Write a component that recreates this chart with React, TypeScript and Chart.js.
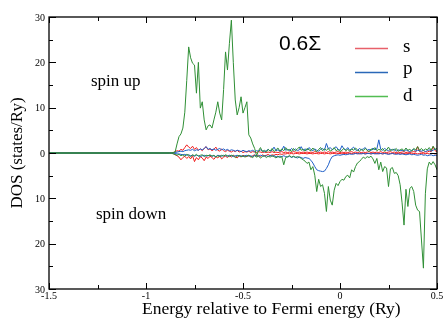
import React, { useEffect, useRef } from "react";
import { Chart, registerables } from "chart.js";

Chart.register(...registerables);

// Energy grid (Ry, relative to Fermi energy)
const energy = [
  -1.5,
  -0.88, -0.87, -0.86, -0.85, -0.84, -0.83, -0.82, -0.81, -0.8, -0.79,
  -0.78, -0.77, -0.76, -0.75, -0.74, -0.73, -0.72, -0.71, -0.7, -0.69,
  -0.68, -0.67, -0.66, -0.65, -0.64, -0.63, -0.62, -0.61, -0.6, -0.59,
  -0.58, -0.57, -0.56, -0.55, -0.54, -0.53, -0.52, -0.51, -0.5, -0.49,
  -0.48, -0.47, -0.46, -0.45, -0.44, -0.43, -0.42, -0.41, -0.4, -0.39,
  -0.38, -0.37, -0.36, -0.35, -0.34, -0.33, -0.32, -0.31, -0.3, -0.29,
  -0.28, -0.27, -0.26, -0.25, -0.24, -0.23, -0.22, -0.21, -0.2, -0.19,
  -0.18, -0.17, -0.16, -0.15, -0.14, -0.13, -0.12, -0.11, -0.1, -0.09,
  -0.08, -0.07, -0.06, -0.05, -0.04, -0.03, -0.02, -0.01, 0.0, 0.01,
  0.02, 0.03, 0.04, 0.05, 0.06, 0.07, 0.08, 0.09, 0.1, 0.11,
  0.12, 0.13, 0.14, 0.15, 0.16, 0.17, 0.18, 0.19, 0.2, 0.21,
  0.22, 0.23, 0.24, 0.25, 0.26, 0.27, 0.28, 0.29, 0.3, 0.31,
  0.32, 0.33, 0.34, 0.35, 0.36, 0.37, 0.38, 0.39, 0.4, 0.41,
  0.42, 0.43, 0.44, 0.45, 0.46, 0.47, 0.48, 0.49, 0.5,
];

// d states, spin up (positive) / spin down (negative)
const dUp = [
  0,
  0, 0, 0.1, 0.2, 2.0, 3.6, 4.2, 5.5, 9.0, 16.0,
  23.4, 21.0, 19.8, 19.4, 13.2, 20.0, 9.9, 11.3, 7.3, 5.1,
  6.0, 6.2, 5.5, 7.3, 9.0, 11.3, 8.8, 7.3, 14.0, 22.3,
  18.3, 24.2, 29.3, 20.0, 11.7, 8.4, 10.0, 12.4, 8.8, 10.0,
  11.3, 4.0, 3.3, 2.0, 1.0, -0.6, 0.5, 1.2, 0.3, 0.6,
  0.2, 0.8, 0.4, 1.0, 0.3, 0.7, 1.1, 0.4, 0.9, 0.5,
  1.2, 0.6, 0.8, 0.3, 1.0, 0.5, 0.9, 1.3, 0.6, 0.8,
  0.4, 1.0, 0.7, 0.5, 1.1, 0.6, 0.3, 0.8, 1.2, 0.5,
  0.9, 0.6, 1.0, 0.4, 0.7, 1.2, 0.5, 0.8, 0.3, 0.6,
  1.0, 0.5, 0.8, 0.4, 0.9, 0.6, 1.1, 0.7, 0.4, 0.8,
  0.5, 1.0, 0.6, 0.3, 0.9, 0.7, 1.2, 0.5, 0.8, 0.6,
  1.0, 0.4, 0.7, 1.3, 0.5, 0.8, 0.6, 1.0, 0.4, 0.7,
  0.9, 0.5, 1.1, 0.6, 0.8, 0.4, 1.0, 0.7, 1.4, 0.6,
  1.0, 0.5, 0.9, 0.7, 1.2, 0.6, 1.5, 0.8, 1.0,
];
const dDown = [
  0,
  0, 0, -0.2, -0.3, -0.5, -0.3, -0.6, -0.4, -0.7, -0.3,
  -0.5, -0.8, -0.4, -0.6, -0.3, -0.7, -0.5, -0.4, -0.8, -0.5,
  -0.6, -0.4, -0.7, -0.5, -0.9, -0.6, -0.8, -0.5, -0.7, -0.4,
  -0.6, -0.8, -0.5, -0.6, -1.0, -0.7, -0.5, -0.8, -0.6, -0.9,
  -0.7, -0.5, -0.8, -1.0, -0.6, -0.9, -0.7, -1.1, -0.8, -0.6,
  -1.0, -0.7, -0.9, -0.6, -0.8, -1.1, -0.7, -1.0, -0.8, -2.6,
  -1.0, -0.8, -0.6, -0.9, -0.7, -1.0, -0.8, -0.9, -1.2, -1.5,
  -1.8, -2.3, -2.0, -3.7, -3.0, -4.9, -8.5, -5.8, -7.4, -7.0,
  -8.9, -12.9, -7.4, -10.4, -11.5, -8.2, -6.7, -7.2, -6.3, -5.8,
  -6.0, -5.2, -4.9, -5.5, -3.7, -4.2, -3.0, -2.2, -1.9, -1.4,
  -0.9, -1.2, -0.8, -1.0, -0.7, -1.3, -2.3, -1.2, -3.7, -2.0,
  -4.1, -3.0, -3.3, -7.4, -3.5, -3.2, -4.5, -4.3, -5.0, -7.0,
  -11.0, -15.9, -8.0, -11.8, -7.8, -7.4, -8.5, -11.5, -12.6, -12.9,
  -19.2, -25.4, -9.0, -3.5, -2.0, -2.6, -1.9, -2.6, -3.7,
];

// p states
const pUp = [
  0,
  0, 0, 0, 0.1, 0.2, 0.3, 0.4, 0.3, 0.5, 0.6,
  0.7, 0.6, 0.8, 0.5, 0.7, 0.6, 0.9, 0.7, 1.0, 1.4,
  0.8, 1.0, 0.7, 0.9, 0.6, 0.8, 1.0, 0.7, 0.9, 0.6,
  0.8, 0.5, 0.7, 0.6, 0.4, 0.6, 0.5, 0.3, 0.6, 0.4,
  0.3, 0.5, 0.4, 0.6, 0.3, 0.5, 0.4, 0.7, 0.5, 0.3,
  0.5, 0.8, 0.4, 0.6, 1.3, 0.5, 0.7, 0.4, 0.6, 1.5,
  0.6, 0.8, 0.5, 1.0, 0.6, 0.9, 0.5, 0.7, 1.4, 0.6,
  0.9, 0.6, 1.2, 0.8, 0.5, 0.9, 0.6, 0.4, 0.8, 1.0,
  0.6, 2.1, 0.9, 1.2, 0.7, 1.0, 1.4, 0.8, 0.6, 1.6,
  0.9, 0.7, 1.2, 0.6, 0.9, 1.3, 0.7, 0.5, 1.0, 0.7,
  0.9, 1.2, 0.6, 0.8, 0.5, 1.1, 0.7, 0.9, 2.9, 0.8,
  0.6, 1.0, 0.7, 0.5, 0.8, 0.6, 0.9, 0.4, 0.7, 0.5,
  0.6, 0.4, 0.7, 0.5, 0.3, 0.6, 0.8, 0.4, 0.6, 0.5,
  0.4, 0.6, 0.3, 0.5, 0.7, 0.4, 0.6, 0.9, 0.5,
];
const pDown = [
  0,
  0, 0, 0, -0.1, -0.2, -0.2, -0.3, -0.4, -0.3, -0.5,
  -0.4, -0.6, -0.5, -0.7, -0.5, -0.6, -0.8, -0.6, -0.5, -0.7,
  -0.6, -0.5, -0.7, -0.6, -0.8, -0.5, -0.6, -0.7, -0.5, -0.6,
  -0.7, -0.5, -0.6, -0.8, -0.6, -0.5, -0.7, -0.6, -0.8, -0.6,
  -0.5, -0.7, -0.6, -0.8, -0.5, -0.6, -0.7, -0.5, -0.6, -0.7,
  -0.6, -0.8, -0.5, -0.7, -0.6, -0.8, -0.9, -0.7, -0.8, -0.6,
  -0.8, -0.9, -0.7, -1.0, -0.8, -0.9, -1.1, -0.9, -1.0, -1.2,
  -1.0, -1.1, -1.2, -1.6, -2.2, -3.0, -3.7, -3.9, -4.0, -4.1,
  -4.0, -3.4, -2.6, -1.5, -0.8, -0.6, -0.5, -0.4, -0.5, -0.4,
  -0.3, -0.4, -0.3, -0.2, -0.3, -0.2, -0.1, -0.2, -0.1, -0.2,
  -0.1, -0.2, -0.1, -0.1, -0.2, -0.1, -0.2, -0.1, -0.2, -0.1,
  -0.2, -0.1, -0.2, -0.3, -0.2, -0.1, -0.2, -0.3, -0.2, -0.3,
  -0.2, -0.3, -0.4, -0.3, -0.2, -0.4, -0.3, -0.4, -0.5, -0.4,
  -0.3, -0.5, -0.4, -0.6, -0.5, -0.4, -0.6, -0.5, -0.5,
];

// s states
const sUp = [
  0,
  0, 0, 0.1, 0.3, 0.5, 0.4, 0.8, 0.6, 1.2, 1.8,
  1.3, 1.0, 1.5, 0.8, 1.2, 0.6, 0.9, 0.5, 1.0, 1.4,
  0.7, 0.9, 0.5, 0.8, 1.3, 0.6, 0.4, 0.9, 0.5, 0.3,
  0.6, 0.4, 0.2, 0.5, 0.3, 0.6, 0.2, 0.4, 0.1, 0.3,
  0.2, 0.4, 0.1, 0.3, 0.2, 0.1, 0.3, 0.2, 0.1, 0.2,
  0.1, 0.2, 0.1, 0.3, 0.1, 0.2, 0.1, 0.2, 0.3, 0.1,
  0.2, 0.1, 0.2, 0.1, 0.3, 0.2, 0.1, 0.2, 0.1, 0.2,
  0.1, 0.2, 0.1, 0.2, 0.1, 0.3, 0.2, 0.1, 0.2, 0.1,
  0.2, 0.1, 0.3, 0.1, 0.2, 0.1, 0.2, 0.3, 0.1, 0.2,
  0.1, 0.2, 0.1, 0.2, 0.3, 0.1, 0.2, 0.1, 0.2, 0.1,
  0.2, 0.1, 0.2, 0.3, 0.1, 0.2, 0.1, 0.2, 0.1, 0.3,
  0.1, 0.2, 0.1, 0.2, 0.3, 0.1, 0.2, 0.1, 0.2, 0.1,
  0.2, 0.3, 0.1, 0.2, 0.1, 0.2, 0.3, 0.2, 1.4, 0.3,
  0.2, 0.1, 0.3, 0.2, 0.4, 0.3, 1.4, 0.5, 0.3,
];
const sDown = [
  0,
  0, 0, -0.1, -0.4, -0.6, -0.9, -1.5, -1.0, -0.7, -1.2,
  -0.8, -1.3, -0.6, -1.9, -1.0, -1.5, -0.8, -1.1, -1.7, -0.9,
  -1.2, -0.7, -1.0, -1.4, -0.8, -1.1, -0.6, -1.3, -0.9, -0.7,
  -1.0, -0.6, -0.9, -0.5, -0.8, -1.1, -0.6, -0.9, -0.5, -0.7,
  -0.8, -0.5, -0.9, -0.6, -0.4, -0.7, -0.5, -0.8, -0.4, -0.6,
  -0.5, -0.3, -0.6, -0.4, -0.5, -0.3, -0.4, -0.2, -0.3, -0.2,
  -0.2, -0.1, -0.2, -0.1, -0.2, -0.1, -0.1, -0.2, -0.1, -0.1,
  -0.1, -0.2, -0.1, -0.1, -0.2, -0.1, -0.1, -0.2, -0.1, -0.1,
  -0.2, -0.1, -0.1, -0.2, -0.1, -0.1, -0.2, -0.1, -0.1, -0.2,
  -0.1, -0.1, -0.2, -0.1, -0.1, -0.2, -0.1, -0.1, -0.2, -0.1,
  -0.1, -0.2, -0.1, -0.1, -0.2, -0.1, -0.1, -0.2, -0.1, -0.1,
  -0.2, -0.1, -0.1, -0.2, -0.1, -0.1, -0.2, -0.1, -0.1, -0.2,
  -0.1, -0.1, -0.2, -0.1, -0.1, -0.2, -0.1, -0.1, -0.2, -0.1,
  -0.1, -0.2, -0.1, -0.1, -0.2, -0.1, -0.1, -0.2, -0.1,
];

const xTicks = [-1.5, -1, -0.5, 0, 0.5];
const xTickLabels = ["-1.5", "-1", "-0.5", "0", "0.5"];
const yTicks = [-30, -20, -10, 0, 10, 20, 30];
const yTickLabels = ["30", "20", "10", "0", "10", "20", "30"];

const legendNames = ["s", "p", "d"];
const RED = "#f01e1e";
const BLUE = "#1f5fc8";
const GREEN = "#2f8f35";
const LEGEND_COLORS = ["#e8606a", "#2a68b8", "#52bd52"];

const SERIF = '"Liberation Serif", "Times New Roman", serif';
const SANS = '"Liberation Sans", Arial, sans-serif';

function pts(ys: number[]) {
  return ys.map((y, i) => ({ x: energy[i], y }));
}

const decor = {
  id: "decor",
  afterDraw(chart: any) {
    const { ctx, chartArea: a, scales } = chart;
    const xs = scales.x;
    const ys = scales.y;
    ctx.save();
    ctx.setLineDash([]);
    ctx.strokeStyle = "#000";
    ctx.fillStyle = "#000";
    ctx.lineWidth = 1.3;
    ctx.strokeRect(a.left, a.top, a.right - a.left, a.bottom - a.top);

    // x ticks (inward, top and bottom)
    ctx.lineWidth = 1;
    for (let v = -1.5; v <= 0.5001; v += 0.25) {
      const px = Math.round(xs.getPixelForValue(v)) + 0.5;
      const major = Math.abs(v * 2 - Math.round(v * 2)) < 1e-6;
      const len = major ? 6 : 4;
      ctx.beginPath();
      ctx.moveTo(px, a.bottom);
      ctx.lineTo(px, a.bottom - len);
      ctx.moveTo(px, a.top);
      ctx.lineTo(px, a.top + len);
      ctx.stroke();
    }
    // y ticks (inward, left and right)
    for (let v = -30; v <= 30; v += 5) {
      const py = Math.round(ys.getPixelForValue(v)) + 0.5;
      const major = v % 10 === 0;
      const len = major ? 7 : 4;
      ctx.beginPath();
      ctx.moveTo(a.left, py);
      ctx.lineTo(a.left + len, py);
      ctx.moveTo(a.right, py);
      ctx.lineTo(a.right - len, py);
      ctx.stroke();
    }

    // tick labels
    ctx.font = `10px ${SERIF}`;
    ctx.textAlign = "center";
    ctx.textBaseline = "top";
    xTicks.forEach((v, i) => {
      ctx.fillText(xTickLabels[i], xs.getPixelForValue(v), a.bottom + 2);
    });
    ctx.textAlign = "right";
    ctx.textBaseline = "middle";
    yTicks.forEach((v, i) => {
      ctx.fillText(yTickLabels[i], a.left - 4, ys.getPixelForValue(v) + 1);
    });

    // axis titles
    ctx.font = `17.5px ${SERIF}`;
    ctx.textAlign = "left";
    ctx.textBaseline = "alphabetic";
    ctx.fillText("Energy relative to Fermi energy (Ry)", 142, 314);
    ctx.save();
    ctx.translate(22, (a.top + a.bottom) / 2);
    ctx.rotate(-Math.PI / 2);
    ctx.textAlign = "center";
    ctx.font = `17px ${SERIF}`;
    ctx.fillText("DOS (states/Ry)", 0, 0);
    ctx.restore();

    // annotations
    ctx.font = `17px ${SERIF}`;
    ctx.textAlign = "left";
    ctx.fillText("spin up", 91, 86);
    ctx.fillText("spin down", 96, 219);
    ctx.font = `21px ${SANS}`;
    ctx.fillText("0.6\u03A3", 279, 50);

    // legend
    const lineY = [48, 72, 96];
    const textY = [52, 74, 101];
    ctx.font = `19px ${SERIF}`;
    for (let i = 0; i < legendNames.length; i++) {
      ctx.beginPath();
      ctx.strokeStyle = LEGEND_COLORS[i];
      ctx.lineWidth = 1.3;
      ctx.moveTo(355, lineY[i] + 0.5);
      ctx.lineTo(388, lineY[i] + 0.5);
      ctx.stroke();
      ctx.fillStyle = "#000";
      ctx.fillText(legendNames[i], 403, textY[i]);
    }
    ctx.restore();
  },
};

export default function App() {
  const ref = useRef<HTMLCanvasElement | null>(null);
  useEffect(() => {
    if (!ref.current) return;
    const mk = (data: number[], color: string) => ({
      data: pts(data),
      borderColor: color,
      backgroundColor: color,
      borderWidth: 1,
      pointRadius: 0,
      tension: 0,
      fill: false,
    });
    const chart = new Chart(ref.current, {
      type: "line",
      data: {
        datasets: [
          { label: "d up", ...mk(dUp, GREEN) },
          { label: "d down", ...mk(dDown, GREEN) },
          { label: "p up", ...mk(pUp, BLUE) },
          { label: "p down", ...mk(pDown, BLUE) },
          { label: "s up", ...mk(sUp, RED) },
          { label: "s down", ...mk(sDown, RED) },
        ],
      },
      options: {
        animation: false,
        responsive: false,
        maintainAspectRatio: false,
        layout: { padding: { left: 49, top: 17, right: 7, bottom: 31 } },
        scales: {
          x: { type: "linear", min: -1.5, max: 0.5, display: false },
          y: { type: "linear", min: -30, max: 30, display: false },
        },
        plugins: { legend: { display: false }, tooltip: { enabled: false } },
      },
      plugins: [decor],
    });
    return () => chart.destroy();
  }, []);
  return (
    <div style={{ position: "fixed", left: 0, top: 0, width: 444, height: 320, background: "#fff" }}>
      <canvas ref={ref} width={444} height={320} style={{ display: "block" }} />
    </div>
  );
}
